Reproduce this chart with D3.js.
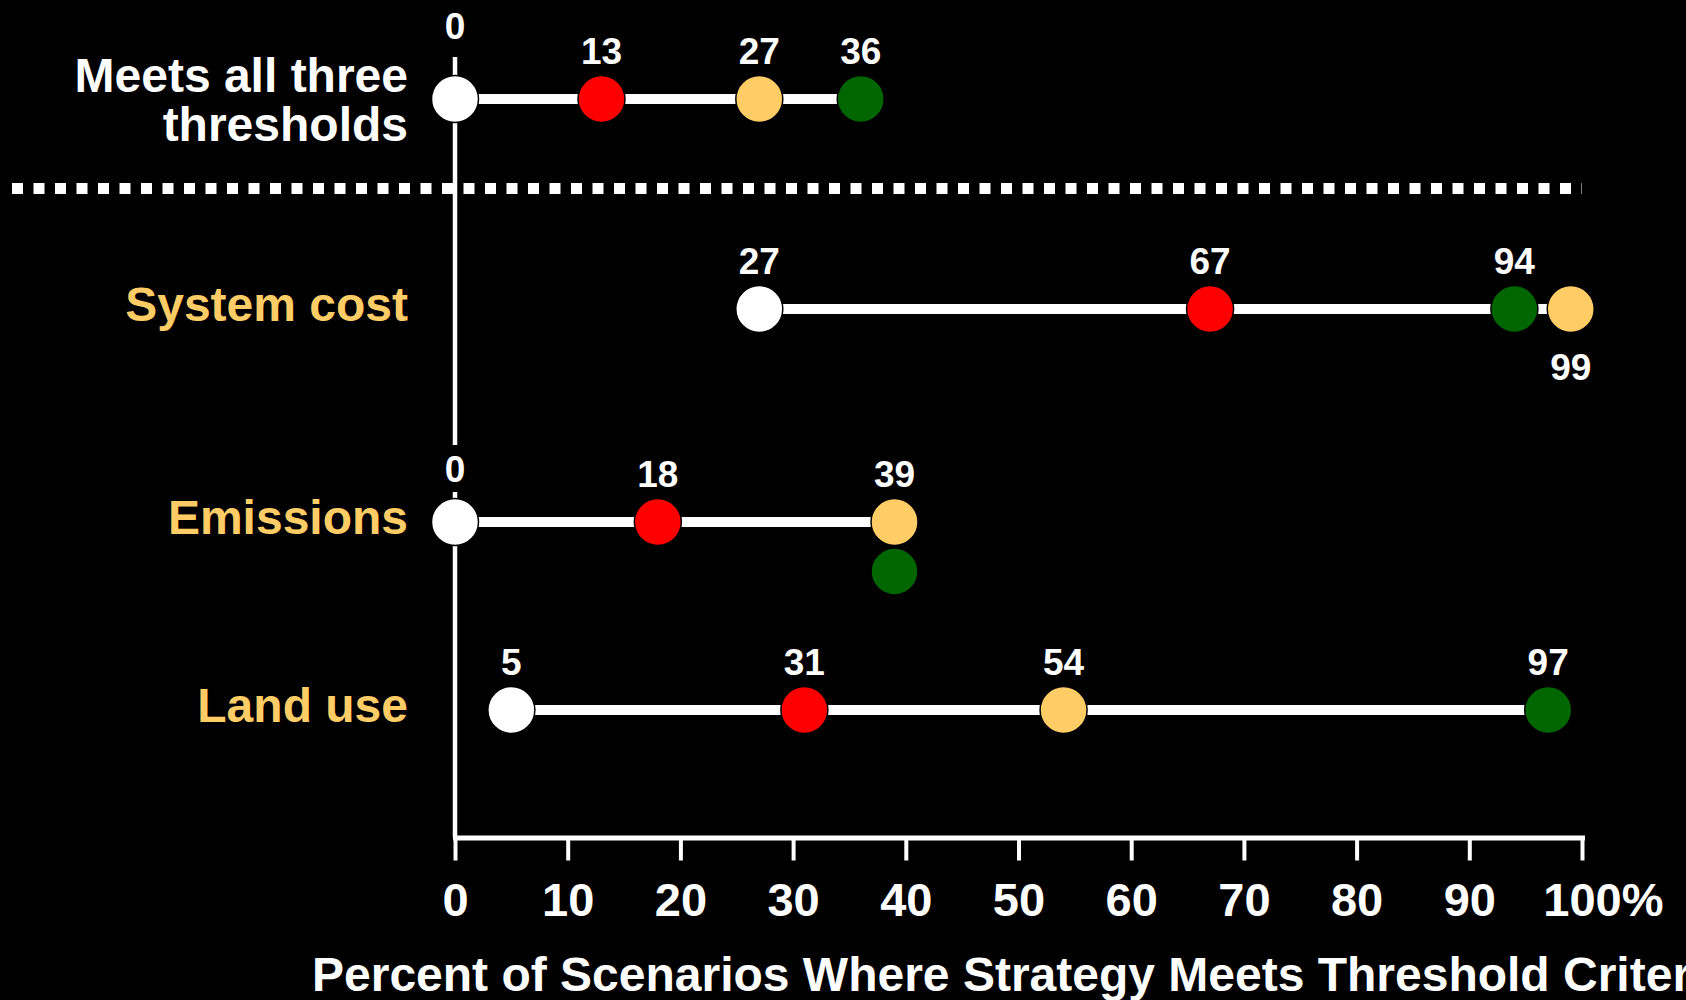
<!DOCTYPE html>
<html>
<head>
<meta charset="utf-8">
<script src="https://cdn.jsdelivr.net/npm/d3@7"></script>
<style>
  html, body { margin: 0; padding: 0; background: #000; }
  svg { display: block; }
  text { font-family: "Liberation Sans", Arial, Helvetica, sans-serif; font-weight: bold; }
</style>
</head>
<body>
<svg id="chart" width="1686" height="1000"></svg>
<script>
// Rows: the combined criterion first, then each single threshold
const categories = ["Meets all three thresholds", "System cost", "Emissions", "Land use"];

// Percent of scenarios meeting the threshold, one array per strategy marker
const seriesWhite  = [0, 27, 0, 5];
const seriesRed    = [13, 67, 18, 31];
const seriesYellow = [27, 99, 39, 54];
const seriesGreen  = [36, 94, 39, 97];

const tickValues = [0, 10, 20, 30, 40, 50, 60, 70, 80, 90, 100];
const axisTitle = "Percent of Scenarios Where Strategy Meets Threshold Criteria";

const series = [
  { key: "white",  values: seriesWhite,  color: "#ffffff" },
  { key: "red",    values: seriesRed,    color: "#ff0000" },
  { key: "yellow", values: seriesYellow, color: "#ffcc66" },
  { key: "green",  values: seriesGreen,  color: "#006600" }
];

const W = 1686, H = 1000;
const svg = d3.select("#chart").attr("viewBox", `0 0 ${W} ${H}`);
svg.append("rect").attr("width", W).attr("height", H).attr("fill", "#000");

const x = d3.scaleLinear().domain([0, 100]).range([455, 1582]);
const axisY = 837.5;
const axisTop = 57;
const r = 23.5;

// Row centre lines: summary row above the divider, criteria rows below it
const rowY = d3.scaleOrdinal().domain(categories).range([99, 309, 522, 710]);

// Divider between the combined row and the individual thresholds
svg.append("line")
  .attr("x1", 12).attr("x2", 1582)
  .attr("y1", 188.5).attr("y2", 188.5)
  .attr("stroke", "#fff").attr("stroke-width", 11)
  .attr("stroke-dasharray", "11 10.5");

// Vertical baseline at 0 %
svg.append("line")
  .attr("x1", x(0)).attr("x2", x(0))
  .attr("y1", axisTop).attr("y2", axisY)
  .attr("stroke", "#fff").attr("stroke-width", 4.5);

// Bottom axis
const tickFont = 47;
const xAxis = d3.axisBottom(x)
  .tickValues(tickValues)
  .tickSize(23).tickSizeOuter(0).tickPadding(22)
  .tickFormat(d => d === 100 ? "100%" : String(d));

const gx = svg.append("g").attr("transform", `translate(0,${axisY})`).call(xAxis);
gx.select(".domain").attr("stroke", "#fff").attr("stroke-width", 5).attr("stroke-linecap", "square");
gx.selectAll(".tick line").attr("stroke", "#fff").attr("stroke-width", 4);
gx.selectAll(".tick text")
  .attr("fill", "#fff")
  .attr("font-size", tickFont)
  .attr("font-family", "\"Liberation Sans\", Arial, sans-serif")
  .attr("font-weight", "bold")
  // keep the number centred on its tick, with the percent sign trailing
  .attr("dx", d => d === 100 ? 0.889 * tickFont / 2 : 0);

svg.append("text")
  .attr("x", 312).attr("y", 991)
  .attr("fill", "#fff").attr("font-size", 48)
  .text(axisTitle);

// Row labels
const labelX = 408;
categories.forEach((c, i) => {
  const t = svg.append("text")
    .attr("x", labelX)
    .attr("text-anchor", "end")
    .attr("font-size", 48)
    .attr("fill", i === 0 ? "#ffffff" : "#ffcc66");
  if (i === 0) {
    const words = c.split(" ");
    t.append("tspan").attr("x", labelX).attr("y", rowY(c) - 7).text(words.slice(0, 3).join(" "));
    t.append("tspan").attr("x", labelX).attr("y", rowY(c) + 42).text(words.slice(3).join(" "));
  } else {
    t.attr("y", rowY(c) + 12).text(c);
  }
});

// Build markers; a value repeated within a row is stacked under the earlier marker
const rows = categories.map((c, i) => {
  const cy = rowY(c);
  const marks = [];
  series.forEach(s => {
    const v = s.values[i];
    const same = marks.filter(m => m.value === v);
    marks.push({ row: c, rowIndex: i, key: s.key, color: s.color, value: v,
                 stack: same.length, cy: cy + same.length * (2 * r + 2.5),
                 labelled: same.length === 0 });
  });
  return { category: c, cy, marks };
});

// Connectors from lowest to highest value in each row
svg.append("g").selectAll("line")
  .data(rows)
  .join("line")
  .attr("x1", d => x(d3.min(d.marks, m => m.value)))
  .attr("x2", d => x(d3.max(d.marks, m => m.value)))
  .attr("y1", d => d.cy).attr("y2", d => d.cy)
  .attr("stroke", "#fff").attr("stroke-width", 10);

const allMarks = rows.flatMap(d => d.marks);

svg.append("g").selectAll("circle")
  .data(allMarks)
  .join("circle")
  .attr("cx", d => x(d.value))
  .attr("cy", d => d.cy)
  .attr("r", r)
  .attr("fill", d => d.color)
  .attr("stroke", "#000").attr("stroke-width", 1.5);

// Value labels: above the marker, or below when crowding the neighbour on the left
const labels = [];
rows.forEach((row, ri) => {
  const sorted = row.marks.filter(m => m.labelled).slice().sort((a, b) => a.value - b.value);
  let prevX = -Infinity;
  sorted.forEach(m => {
    const px = x(m.value);
    let y;
    if (px - prevX < 60) { y = m.cy + r + 47; }
    else if (m.value === 0) { y = ri === 0 ? axisTop - 18 : m.cy - 40; }
    else { y = m.cy - 35; }
    labels.push({ x: px, y, value: m.value, zero: m.value === 0 });
    prevX = px;
  });
});

const lg = svg.append("g");
// Knock the baseline out behind labels that sit on it
lg.selectAll("rect")
  .data(labels.filter(d => d.zero))
  .join("rect")
  .attr("x", d => d.x - 16).attr("y", d => d.y - 37)
  .attr("width", 32).attr("height", 47)
  .attr("fill", "#000");

lg.selectAll("text")
  .data(labels)
  .join("text")
  .attr("x", d => d.x).attr("y", d => d.y)
  .attr("text-anchor", "middle")
  .attr("font-size", 37)
  .attr("fill", "#fff")
  .text(d => d.value);
</script>
</body>
</html>
